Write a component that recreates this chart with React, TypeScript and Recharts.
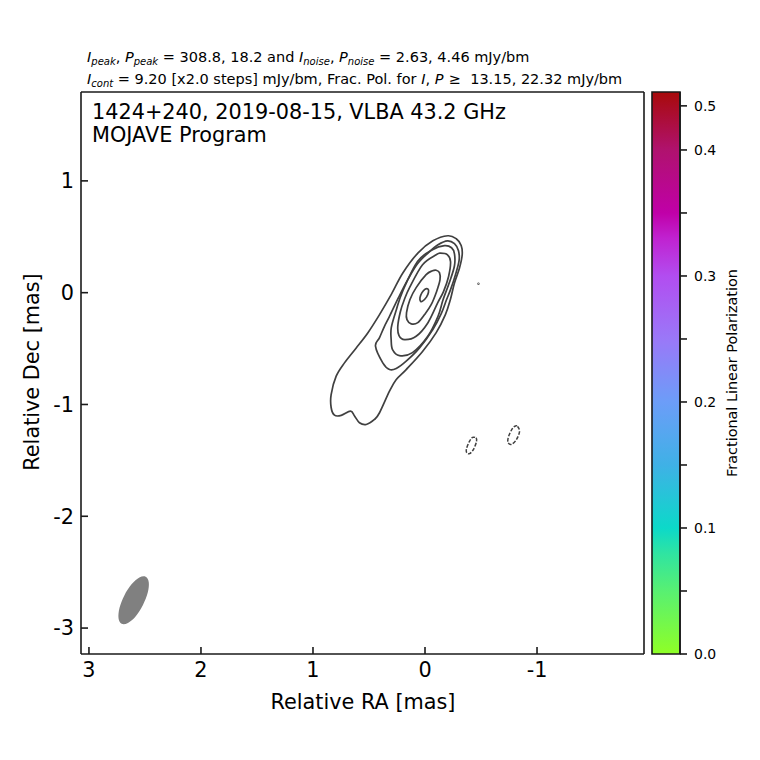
import React from 'react';
import { ScatterChart, Scatter, XAxis, YAxis, ReferenceArea } from 'recharts';

// contour outlines, [relative RA, relative Dec] in mas
const contour1 = [[-0.204, 0.509], [-0.279, 0.482], [-0.323, 0.422], [-0.332, 0.339], [-0.308, 0.221], [-0.263, 0.087], [-0.226, -0.063], [-0.182, -0.196], [-0.1, -0.357], [0.022, -0.526], [0.168, -0.688], [0.258, -0.778], [0.317, -0.881], [0.406, -1.074], [0.451, -1.134], [0.525, -1.179], [0.585, -1.163], [0.629, -1.104], [0.665, -1.06], [0.748, -1.098], [0.808, -1.096], [0.838, -1.027], [0.838, -0.911], [0.793, -0.747], [0.719, -0.628], [0.614, -0.494], [0.511, -0.36], [0.406, -0.196], [0.302, -0.018], [0.198, 0.176], [0.064, 0.354], [-0.07, 0.464]];
const contour2 = [[-0.201, 0.464], [-0.263, 0.438], [-0.299, 0.375], [-0.304, 0.286], [-0.272, 0.161], [-0.228, 0.027], [-0.192, -0.063], [-0.145, -0.188], [-0.07, -0.33], [0.049, -0.494], [0.168, -0.613], [0.257, -0.679], [0.317, -0.688], [0.377, -0.628], [0.442, -0.479], [0.406, -0.402], [0.362, -0.301], [0.317, -0.212], [0.237, -0.045], [0.154, 0.116], [0.067, 0.259], [-0.029, 0.357], [-0.116, 0.429]];
const contour3 = [[-0.174, 0.42], [-0.237, 0.402], [-0.263, 0.348], [-0.263, 0.241], [-0.22, 0.098], [-0.161, -0.063], [-0.116, -0.212], [-0.025, -0.39], [0.112, -0.536], [0.228, -0.563], [0.29, -0.509], [0.302, -0.42], [0.301, -0.312], [0.255, -0.15], [0.2, 0.012], [0.067, 0.279], [-0.067, 0.384]];
const contour4 = [[-0.138, 0.353], [-0.201, 0.339], [-0.228, 0.277], [-0.21, 0.143], [-0.165, 0.009], [-0.114, -0.089], [-0.025, -0.271], [0.079, -0.39], [0.183, -0.42], [0.232, -0.384], [0.243, -0.301], [0.22, -0.17], [0.185, -0.063], [0.138, 0.045], [0.022, 0.25], [-0.1, 0.339]];
const contour5 = [[-0.1, 0.201], [-0.129, 0.179], [-0.134, 0.116], [-0.103, 0.009], [-0.055, -0.107], [0.004, -0.196], [0.064, -0.268], [0.123, -0.279], [0.161, -0.241], [0.165, -0.179], [0.135, -0.063], [0.079, 0.045], [-0.01, 0.161], [-0.067, 0.196]];
const contour6 = [[-0.027, 0.031], [-0.031, 0.004], [-0.013, -0.04], [0.022, -0.076], [0.04, -0.076], [0.045, -0.045], [0.027, 0], [0, 0.031]];
const speck = [[-0.476, 0.084], [-0.48, 0.08], [-0.476, 0.076]];
const negative1 = [[-0.455, -1.299], [-0.46, -1.33], [-0.433, -1.402], [-0.397, -1.44], [-0.371, -1.429], [-0.371, -1.393], [-0.397, -1.33], [-0.424, -1.295]];
const negative2 = [[-0.826, -1.196], [-0.844, -1.241], [-0.817, -1.313], [-0.772, -1.357], [-0.741, -1.339], [-0.746, -1.286], [-0.781, -1.214], [-0.808, -1.192]];
const beamOutline = [[2.494, -2.541], [2.466, -2.59], [2.475, -2.683], [2.518, -2.794], [2.582, -2.894], [2.652, -2.954], [2.708, -2.962], [2.736, -2.912], [2.727, -2.819], [2.684, -2.708], [2.62, -2.609], [2.55, -2.548]];

const raTicks = [3, 2, 1, 0, -1];
const decTicks = [1, 0, -1, -2, -3];
const raDomain = [-1.955, 3.071];
const decDomain = [-3.232, 1.795];

// colorbar
const cbTicks = [0, 0.05, 0.1, 0.15, 0.2, 0.25, 0.3, 0.35, 0.4, 0.435];
const cbLabels = ['0.0', '', '0.1', '', '0.2', '', '0.3', '', '0.4', '0.5'];
const cbMax = 0.446;
const cbStops = [0, 0.05, 0.08, 0.1, 0.15, 0.2, 0.25, 0.3, 0.33, 0.35, 0.4, 0.446];
const cbColors = ['#8fff26', '#58f072', '#2fe4a2', '#0cd9c9', '#3fb1e6', '#6c9df8', '#9a78f8', '#b24df0', '#c022d0', '#c000a8', '#b0126e', '#a80a0a'];

const FONT = '"DejaVu Sans", sans-serif';
const LINE = '#404040';
const FRAME = '#1a1a1a';

const toPoints = (pts: number[][]) => pts.map(([ra, dec]) => ({ ra, dec }));

// closed Catmull-Rom curve, the contours need to come back round smoothly
const closedSmooth = (ctx: any) => {
  let pts: number[][] = [];
  return {
    areaStart() {},
    areaEnd() {},
    lineStart() { pts = []; },
    point(x: number, y: number) { pts.push([+x, +y]); },
    lineEnd() {
      const n = pts.length;
      ctx.moveTo(pts[0][0], pts[0][1]);
      for (let i = 0; i < n; i++) {
        const p0 = pts[(i - 1 + n) % n];
        const p1 = pts[i];
        const p2 = pts[(i + 1) % n];
        const p3 = pts[(i + 2) % n];
        ctx.bezierCurveTo(
          p1[0] + (p2[0] - p0[0]) / 6, p1[1] + (p2[1] - p0[1]) / 6,
          p2[0] - (p3[0] - p1[0]) / 6, p2[1] - (p3[1] - p1[1]) / 6,
          p2[0], p2[1],
        );
      }
      ctx.closePath();
    },
  };
};

const noDot = () => null;

const outline = (key: string, pts: number[][], line: any) => (
  <Scatter
    key={key}
    data={toPoints(pts)}
    xAxisId="ra"
    yAxisId="dec"
    shape={noDot}
    line={line}
    lineJointType={closedSmooth as any}
    isAnimationActive={false}
  />
);

const tickStyle = { fill: '#000', fontSize: 20.8, fontFamily: FONT };

const Sub = ({ children }: { children: string }) => (
  <tspan fontStyle="italic" fontSize={10} baselineShift={-3}>{children}</tspan>
);
const It = ({ children }: { children: string }) => <tspan fontStyle="italic">{children}</tspan>;

// minor colorbar ticks carry no label
const CbTick = ({ x, y, payload }: any) => {
  const label = cbLabels[cbTicks.indexOf(payload.value)];
  if (!label) return null;
  return (
    <text x={x} y={y} dy={5} textAnchor="start" fontFamily={FONT} fontSize={14} fill="#000">{label}</text>
  );
};

export default function App() {
  const solid = { stroke: LINE, strokeWidth: 1.7, fill: 'none' };
  const dashed = { stroke: LINE, strokeWidth: 1.5, fill: 'none', strokeDasharray: '3.7 1.6' };
  const filled = { stroke: 'none', fill: '#808080' };
  return (
    <div style={{ position: 'absolute', left: 0, top: 0, width: 760, height: 760 }}>
      <div style={{ position: 'absolute', left: 0, top: 0 }}>
        <ScatterChart width={760} height={760} margin={{ top: 82, right: 106, bottom: 66, left: 41 }}>
          <XAxis xAxisId="ra" type="number" dataKey="ra" orientation="bottom" height={40} domain={raDomain} reversed allowDataOverflow ticks={raTicks} interval={0} tickSize={-7} tickMargin={15} tick={tickStyle} stroke={FRAME} strokeWidth={1.6} />
          <XAxis xAxisId="raTop" type="number" dataKey="ra" orientation="top" height={10} domain={raDomain} reversed allowDataOverflow ticks={raTicks} interval={0} tickSize={-7} tick={false} stroke={FRAME} strokeWidth={1.6} />
          <YAxis yAxisId="dec" type="number" dataKey="dec" orientation="left" width={40} domain={decDomain} allowDataOverflow ticks={decTicks} interval={0} tickSize={-7} tickMargin={14} tick={tickStyle} stroke={FRAME} strokeWidth={1.6} />
          <YAxis yAxisId="decRight" type="number" dataKey="dec" orientation="right" width={10} domain={decDomain} allowDataOverflow ticks={decTicks} interval={0} tickSize={-7} tick={false} stroke={FRAME} strokeWidth={1.6} />

          {outline('beam', beamOutline, filled)}
          {[contour1, contour2, contour3, contour4, contour5, contour6, speck].map((c, i) => outline(`c${i}`, c, solid))}
          {outline('n1', negative1, dashed)}
          {outline('n2', negative2, dashed)}

          <text x={87} y={62} fontFamily={FONT} fontSize={14.5} fill="#000">
            <It>I</It><Sub>peak</Sub>, <It>P</It><Sub>peak</Sub> = 308.8, 18.2 and <It>I</It><Sub>noise</Sub>, <It>P</It><Sub>noise</Sub> = 2.63, 4.46 mJy/bm
          </text>
          <text x={87} y={84} fontFamily={FONT} fontSize={14.5} fill="#000">
            <It>I</It><Sub>cont</Sub> = 9.20 [x2.0 steps] mJy/bm, Frac. Pol. for <It>I</It>, <It>P</It><tspan dx={5}>≥</tspan><tspan dx={5}> 13.15, 22.32 mJy/bm</tspan>
          </text>
          <text x={92} y={119} fontFamily={FONT} fontSize={20.8} fill="#000">1424+240, 2019-08-15, VLBA 43.2 GHz</text>
          <text x={92} y={142} fontFamily={FONT} fontSize={20.8} fill="#000">MOJAVE Program</text>
          <text x={363} y={709} textAnchor="middle" fontFamily={FONT} fontSize={20.8} fill="#000">Relative RA [mas]</text>
          <text x={39} y={372} textAnchor="middle" transform="rotate(-90 39 372)" fontFamily={FONT} fontSize={20.8} fill="#000">Relative Dec [mas]</text>
        </ScatterChart>
      </div>
      <div style={{ position: 'absolute', left: 0, top: 0 }}>
        <ScatterChart width={760} height={760} margin={{ top: 92, right: 20, bottom: 106, left: 652 }}>
          <defs>
            <linearGradient id="polBar" x1="0" y1="1" x2="0" y2="0">
              {cbStops.map((v, i) => (
                <stop key={v} offset={v / cbMax} stopColor={cbColors[i]} />
              ))}
            </linearGradient>
          </defs>
          <XAxis xAxisId="bar" type="number" dataKey="x" domain={[0, 1]} hide height={0} />
          <YAxis
            yAxisId="pol"
            type="number"
            dataKey="v"
            orientation="right"
            width={60}
            domain={[0, cbMax]}
            ticks={cbTicks}
            interval={0}
            tickSize={7}
            tickMargin={7}
            tick={<CbTick />}
            stroke={FRAME}
            strokeWidth={1.6}
          />
          <Scatter
            data={cbTicks.map((v) => ({ x: 0.5, v }))}
            xAxisId="bar"
            yAxisId="pol"
            shape={noDot}
            isAnimationActive={false}
          />
          <ReferenceArea xAxisId="bar" yAxisId="pol" x1={0} x2={1} y1={0} y2={cbMax} fill="url(#polBar)" fillOpacity={1} stroke={FRAME} strokeWidth={1.6} />
          <text x={737} y={373} textAnchor="middle" transform="rotate(-90 737 373)" fontFamily={FONT} fontSize={14.4} fill="#000">Fractional Linear Polarization</text>
        </ScatterChart>
      </div>
    </div>
  );
}
